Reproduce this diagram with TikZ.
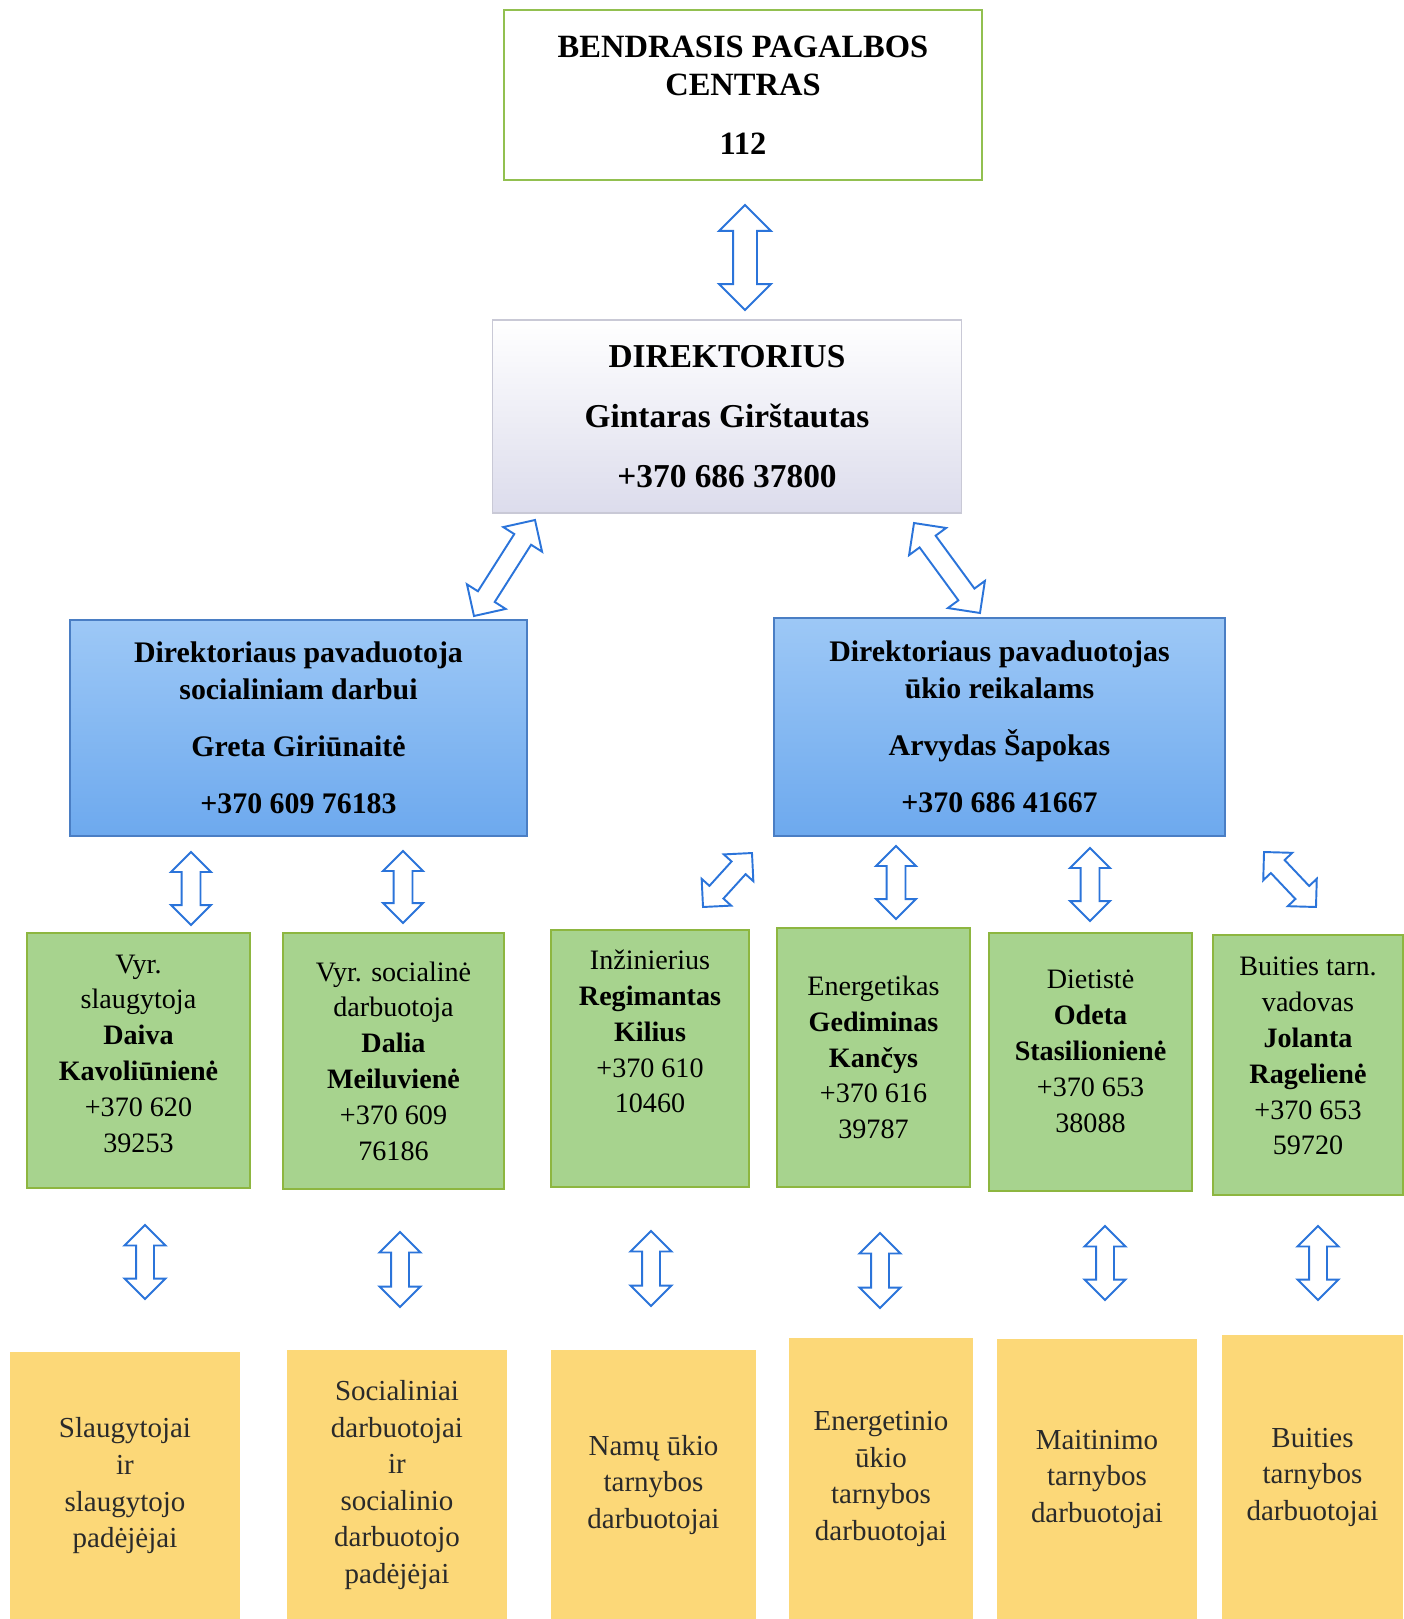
\documentclass[tikz,border=0pt]{standalone}
\usepackage{fontspec}
\setmainfont{Liberation Serif}
\usetikzlibrary{shapes,shapes.arrows,calc,positioning}

% hollow two-headed block arrow between two points
\newcommand{\biarrow}[3][]{%
  \path let \p1=($(#3)-(#2)$), \n1={veclen(\x1,\y1)} in
    (#2) -- (#3) node[biarr, #1, midway, sloped, minimum height=\n1] {};}

\begin{document}
\begin{tikzpicture}[x=0.02cm, y=-0.02cm,
    box/.style={rectangle, align=center, inner sep=2pt, text=black},
    centrebox/.style={box, draw=frame, line width=1.3pt, fill=white,
        font=\bfseries\fontsize{18.5}{21.5}\selectfont},
    dirbox/.style={box, draw=dirframe, line width=0.6pt,
        top color=white, bottom color=dirfill,
        font=\bfseries\fontsize{19}{34}\selectfont},
    depbox/.style={box, draw=depframe, line width=0.8pt,
        top color=deptop, bottom color=depbottom,
        font=\bfseries\fontsize{17}{21}\selectfont},
    headbox/.style={box, draw=headframe, line width=1pt, fill=headfill,
        font=\fontsize{16}{20.4}\selectfont},
    teambox/.style={box, fill=teamfill, anchor=north, text=teamtext,
        font=\fontsize{16.5}{20.8}\selectfont},
    biarr/.style={double arrow, draw=arrowblue, fill=white, line width=1.1pt,
        minimum width=1pt, inner sep=0.17cm, double arrow head extend=0.21cm},
    bigarr/.style={inner sep=0.22cm, double arrow head extend=0.28cm},
    slantarr/.style={inner sep=0.18cm, double arrow head extend=0.26cm},
    lowarr/.style={inner sep=0.16cm, double arrow head extend=0.23cm}]
    \definecolor{frame}{HTML}{92C050}
    \definecolor{dirframe}{HTML}{C9C9D6}
    \definecolor{dirfill}{HTML}{DCDCEC}
    \definecolor{depframe}{HTML}{4A7EC4}
    \definecolor{deptop}{HTML}{9DC8F6}
    \definecolor{depbottom}{HTML}{6DA9EE}
    \definecolor{headframe}{HTML}{8DB640}
    \definecolor{headfill}{HTML}{A7D38E}
    \definecolor{teamfill}{HTML}{FCD878}
    \definecolor{teamtext}{HTML}{2A2A2A}
    \definecolor{arrowblue}{HTML}{2B74DA}

    \useasboundingbox (0,0) rectangle (1403,1619);

    % top of the chart
    \node[centrebox, minimum width=9.56cm, minimum height=3.4cm] (centre) at (743,95)
        {BENDRASIS PAGALBOS\\ CENTRAS\\[0.42cm] 112};
    \node[dirbox, minimum width=9.4cm, minimum height=3.86cm] (dir) at (727,416.5)
        {DIREKTORIUS\\ Gintaras Girštautas\\ +370 686 37800};

    % deputies
    \node[depbox, minimum width=9.14cm, minimum height=4.32cm] (depsoc) at (298.5,728)
        {Direktoriaus pavaduotoja\\ socialiniam darbui\\[0.4cm]
         Greta Giriūnaitė\\[0.4cm] +370 609 76183};
    \node[depbox, minimum width=9.02cm, minimum height=4.36cm] (depeco) at (999.5,727)
        {Direktoriaus pavaduotojas\\ ūkio reikalams\\[0.4cm]
         Arvydas Šapokas\\[0.4cm] +370 686 41667};

    % heads of units
    \node[headbox, minimum width=4.46cm, minimum height=5.1cm, text depth=0.28cm]
        (nurse) at (138.5,1060.5)
        {Vyr.\\ slaugytoja\\ \textbf{Daiva}\\ \textbf{Kavoliūnienė}\\ +370 620\\ 39253};
    \node[headbox, minimum width=4.42cm, minimum height=5.12cm] (social) at (393.5,1061)
        {Vyr. socialinė\\ darbuotoja\\ \textbf{Dalia}\\ \textbf{Meiluvienė}\\ +370 609\\ 76186};
    \node[headbox, minimum width=3.96cm, minimum height=5.14cm, text depth=1.08cm]
        (engineer) at (650,1058.5)
        {Inžinierius\\ \textbf{Regimantas}\\ \textbf{Kilius}\\ +370 610\\ 10460};
    \node[headbox, minimum width=3.86cm, minimum height=5.18cm] (energy) at (873.5,1057.5)
        {Energetikas\\ \textbf{Gediminas}\\ \textbf{Kančys}\\ +370 616\\ 39787};
    \node[headbox, minimum width=4.06cm, minimum height=5.16cm, text depth=0.44cm]
        (diet) at (1090.5,1062)
        {Dietistė\\ \textbf{Odeta}\\ \textbf{Stasilionienė}\\ +370 653\\ 38088};
    \node[headbox, minimum width=3.8cm, minimum height=5.2cm, text depth=0.36cm]
        (service) at (1308,1065)
        {Buities tarn.\\ vadovas\\ \textbf{Jolanta}\\ \textbf{Ragelienė}\\ +370 653\\ 59720};

    % staff (boxes run off the bottom of the page)
    \node[teambox, minimum width=4.6cm, minimum height=5.34cm] (tnurse) at (125,1352)
        {Slaugytojai\\ ir\\ slaugytojo\\ padėjėjai};
    \node[teambox, minimum width=4.4cm, minimum height=5.38cm] (tsocial) at (397,1350)
        {Socialiniai\\ darbuotojai\\ ir\\ socialinio\\ darbuotojo\\ padėjėjai};
    \node[teambox, minimum width=4.1cm, minimum height=5.38cm] (thouse) at (653.5,1350)
        {Namų ūkio\\ tarnybos\\ darbuotojai};
    \node[teambox, minimum width=3.68cm, minimum height=5.62cm] (tenergy) at (881,1338)
        {Energetinio\\ ūkio\\ tarnybos\\ darbuotojai};
    \node[teambox, minimum width=4cm, minimum height=5.6cm] (tfood) at (1097,1339)
        {Maitinimo\\ tarnybos\\ darbuotojai};
    \node[teambox, minimum width=3.62cm, minimum height=5.68cm] (tservice) at (1312.5,1335)
        {Buities\\ tarnybos\\ darbuotojai};

    % arrow ends
    \foreach \k/\xa/\ya/\xb/\yb in {a/745/205/745/310, b/535/520/474/616, c/914/523/980/613,
        g1/191/852/191/925, g2/403/851/403/923, g3/703/907/752/853,
        g4/896/846/896/919, g5/1090/848/1090/921, g6/1264/852/1316/907,
        t1/145/1225/145/1299, t2/400/1232/400/1307, t3/651/1231/651/1306,
        t4/880/1233/880/1308, t5/1105/1226/1105/1300, t6/1318/1226/1318/1300}
    {
        \coordinate (\k s) at (\xa,\ya);
        \coordinate (\k e) at (\xb,\yb);
    }

    % arrows
    \biarrow[bigarr]{as}{ae}
    \biarrow[slantarr]{bs}{be}
    \biarrow[slantarr]{cs}{ce}
    \foreach \k in {g1,g2,g3,g4,g5,g6} {\biarrow{\k s}{\k e}}
    \foreach \k in {t1,t2,t3,t4,t5,t6} {\biarrow[lowarr]{\k s}{\k e}}
\end{tikzpicture}
\end{document}
